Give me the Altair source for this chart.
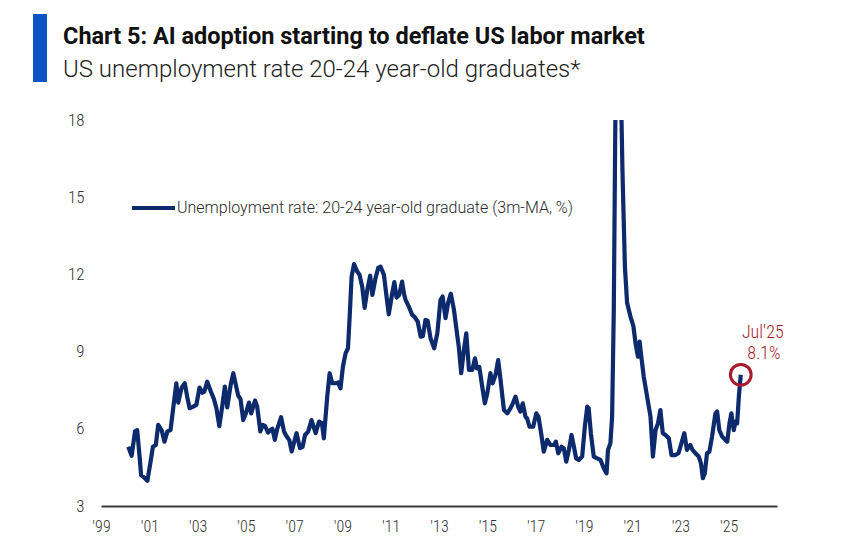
import altair as alt
import pandas as pd

# ---- data (decimal year, 3m-MA unemployment rate %) ----
years = [
    2000.13, 2000.27, 2000.41, 2000.50, 2000.60, 2000.66, 2000.80, 2000.92,
    2001.05, 2001.15, 2001.27, 2001.37, 2001.51, 2001.63, 2001.75, 2001.88, 2001.99,
    2002.12, 2002.20, 2002.34, 2002.47, 2002.57, 2002.67, 2002.80, 2002.95,
    2003.08, 2003.20, 2003.28, 2003.40, 2003.55, 2003.68, 2003.78, 2003.90,
    2004.02, 2004.13, 2004.23, 2004.37, 2004.48, 2004.57, 2004.68, 2004.78, 2004.89,
    2005.00, 2005.13, 2005.22, 2005.38, 2005.47, 2005.60, 2005.70, 2005.80, 2005.92,
    2006.02, 2006.10, 2006.20, 2006.30, 2006.46, 2006.58, 2006.66, 2006.80, 2006.90,
    2007.06, 2007.10, 2007.24, 2007.35, 2007.45, 2007.58, 2007.72, 2007.89,
    2008.03, 2008.15, 2008.23, 2008.37, 2008.47, 2008.58, 2008.72, 2008.82, 2008.92,
    2009.02, 2009.13, 2009.23, 2009.30, 2009.38, 2009.48, 2009.62, 2009.71, 2009.82, 2009.92,
    2010.03, 2010.15, 2010.24, 2010.37, 2010.48, 2010.58, 2010.72, 2010.81, 2010.92,
    2011.05, 2011.15, 2011.24, 2011.35, 2011.47, 2011.56, 2011.62, 2011.75, 2011.89, 2011.98,
    2012.12, 2012.24, 2012.33, 2012.44, 2012.53, 2012.65, 2012.80, 2012.93,
    2013.06, 2013.15, 2013.27, 2013.38, 2013.49, 2013.62, 2013.76, 2013.82, 2013.92,
    2014.03, 2014.13, 2014.24, 2014.38, 2014.49, 2014.57, 2014.67, 2014.79, 2014.90,
    2015.00, 2015.13, 2015.22, 2015.34, 2015.45, 2015.55, 2015.69, 2015.83, 2015.96,
    2016.06, 2016.17, 2016.28, 2016.37, 2016.47, 2016.58, 2016.65, 2016.75, 2016.90,
    2017.03, 2017.12, 2017.23, 2017.34, 2017.48, 2017.62, 2017.76, 2017.84, 2017.94,
    2018.07, 2018.17, 2018.27, 2018.38, 2018.49, 2018.59, 2018.68, 2018.79, 2018.93,
    2019.04, 2019.14, 2019.20, 2019.29, 2019.41, 2019.55, 2019.69, 2019.83, 2019.94,
    2020.00, 2020.10, 2020.17, 2020.24, 2020.33, 2020.42, 2020.50, 2020.60, 2020.70, 2020.79, 2020.93,
    2021.05, 2021.14, 2021.24, 2021.31, 2021.38, 2021.48, 2021.62, 2021.76, 2021.86, 2021.97,
    2022.07, 2022.17, 2022.27, 2022.38, 2022.52, 2022.63, 2022.79, 2022.92,
    2023.04, 2023.16, 2023.27, 2023.41, 2023.50, 2023.62, 2023.76, 2023.85, 2023.93,
    2024.01, 2024.10, 2024.20, 2024.31, 2024.45, 2024.52, 2024.61, 2024.73, 2024.86, 2024.94,
    2025.03, 2025.11, 2025.21, 2025.28, 2025.35, 2025.42, 2025.50,
]
rates = [
    5.30, 4.95, 5.90, 5.95, 4.90, 4.20, 4.10, 3.98,
    4.70, 5.30, 5.37, 6.15, 5.95, 5.50, 5.90, 5.95, 6.80,
    7.77, 7.02, 7.60, 7.77, 7.25, 6.80, 6.85, 6.93,
    7.60, 7.40, 7.45, 7.83, 7.45, 7.15, 6.80, 6.10,
    6.86, 7.64, 6.83, 7.70, 8.16, 7.77, 7.30, 7.15, 6.34,
    6.60, 7.02, 6.60, 7.10, 6.86, 5.90, 6.15, 6.10, 5.85,
    5.95, 6.00, 5.57, 6.00, 6.45, 5.90, 5.75, 5.56, 5.12,
    5.70, 5.83, 5.25, 5.30, 5.76, 5.89, 6.34, 5.83,
    6.28, 6.22, 5.63, 7.25, 8.16, 7.77, 7.77, 7.80, 7.57,
    8.41, 8.93, 9.13, 10.36, 11.91, 12.40, 12.10, 11.98, 11.52, 10.70,
    11.40, 11.95, 11.20, 11.85, 12.25, 12.30, 11.98, 11.27, 10.45,
    11.20, 11.70, 11.10, 11.20, 11.72, 11.20, 11.00, 10.75, 10.42, 10.36,
    10.16, 9.58, 9.60, 10.23, 10.20, 9.52, 9.13, 9.71,
    11.00, 11.14, 10.30, 10.90, 11.25, 10.62, 9.60, 9.19, 8.16,
    9.06, 9.71, 8.29, 8.29, 8.74, 8.35, 8.40, 7.64, 6.99,
    7.38, 8.16, 7.77, 8.09, 8.67, 7.90, 6.73, 6.60, 6.80,
    6.99, 7.25, 6.86, 6.67, 6.99, 6.47, 6.40, 6.08, 6.08,
    6.60, 6.47, 5.83, 5.11, 5.57, 5.37, 5.37, 5.50, 5.05,
    5.30, 5.24, 4.72, 5.18, 5.76, 5.30, 4.85, 4.79, 4.92,
    6.08, 6.86, 6.80, 5.83, 4.92, 4.85, 4.79, 4.46, 4.27,
    5.18, 5.44, 6.47, 10.62, 21.0, 23.5, 21.0, 16.0, 12.3, 10.9, 10.36,
    10.00, 9.32, 8.80, 9.39, 8.80, 8.03, 7.25, 6.47, 4.92, 5.95,
    6.21, 6.73, 5.83, 5.76, 5.63, 4.98, 4.98, 5.05,
    5.44, 5.83, 5.18, 5.37, 5.18, 5.05, 4.92, 4.66, 4.08,
    4.27, 5.05, 5.11, 5.70, 6.60, 6.67, 5.95, 5.70, 5.57, 5.50,
    6.21, 6.60, 5.95, 6.28, 6.21, 7.25, 8.10,
]

x_ticks = [1999, 2001, 2003, 2005, 2007, 2009, 2011, 2013, 2015, 2017, 2019, 2021, 2023, 2025]
y_ticks = [3, 6, 9, 12, 15, 18]

title_text = "Chart 5: AI adoption starting to deflate US labor market"
subtitle_text = "US unemployment rate 20-24 year-old graduates*"
legend_text = "Unemployment rate: 20-24 year-old graduate (3m-MA, %)"
last_label = ["Jul'25"]
last_value_label = ["8.1%"]

NAVY = "#0c2a6c"
RED = "#a8192e"
BLUE_BAR = "#0b52c4"
FONT_N = "Roboto Condensed, Roboto, sans-serif"
FONT = "Roboto, sans-serif"

df = pd.DataFrame({"year": years, "rate": rates})
last = pd.DataFrame({"year": [years[-1]], "rate": [rates[-1]],
                     "l1": last_label, "l2": last_value_label})

xscale = alt.Scale(domain=[1999, 2027], nice=False, zero=False)
yscale = alt.Scale(domain=[3, 18], nice=False, zero=False)

xaxis = alt.Axis(values=x_ticks, labelExpr="\"'\" + substring(toString(datum.value), 2)",
                 title=None, grid=False, ticks=False, domain=True,
                 domainColor="#3a3a3a", domainWidth=2, labelFont=FONT_N,
                 labelFontSize=16, labelFontWeight=300, labelColor="#333333",
                 labelPadding=12, labelFlush=False)
yaxis = alt.Axis(values=y_ticks, title=None, grid=False, ticks=False, domain=False,
                 labelFont=FONT_N, labelFontSize=17, labelFontWeight=300,
                 labelColor="#333333", labelPadding=17)

line = alt.Chart(df).mark_line(clip=True, color=NAVY, strokeWidth=4.2,
                               strokeJoin="round").encode(
    x=alt.X("year:Q", scale=xscale, axis=xaxis),
    y=alt.Y("rate:Q", scale=yscale, axis=yaxis),
)

circle = alt.Chart(last).mark_point(shape="circle", size=430, filled=False,
                                    stroke=RED, strokeWidth=3, opacity=1).encode(
    x=alt.X("year:Q", scale=xscale), y=alt.Y("rate:Q", scale=yscale))

lab1 = alt.Chart(last).mark_text(font=FONT_N, fontSize=18, fontWeight=300, color=RED,
                                 align="center", baseline="alphabetic", dx=22, dy=-37).encode(
    x=alt.X("year:Q", scale=xscale), y=alt.Y("rate:Q", scale=yscale), text="l1:N")
lab2 = alt.Chart(last).mark_text(font=FONT_N, fontSize=18, fontWeight=300, color=RED,
                                 align="center", baseline="alphabetic", dx=23, dy=-16).encode(
    x=alt.X("year:Q", scale=xscale), y=alt.Y("rate:Q", scale=yscale), text="l2:N")

one = pd.DataFrame({"title": [title_text], "subtitle": [subtitle_text],
                    "legend": [legend_text]})

bar = alt.Chart(one).mark_rect(color=BLUE_BAR).encode(
    x=alt.value(-68), x2=alt.value(-54), y=alt.value(-106), y2=alt.value(-38))
title = alt.Chart(one).mark_text(font=FONT, fontSize=23.5, fontWeight="bold", color="#111111",
                                 align="left", baseline="alphabetic").encode(
    x=alt.value(-38), y=alt.value(-76), text="title:N")
subtitle = alt.Chart(one).mark_text(font=FONT, fontSize=24, fontWeight=300, color="#222222",
                                    align="left", baseline="alphabetic").encode(
    x=alt.value(-38), y=alt.value(-43), text="subtitle:N")
leg_line = alt.Chart(one).mark_rule(color=NAVY, strokeWidth=4.2).encode(
    x=alt.value(31), x2=alt.value(74), y=alt.value(88))
leg_text = alt.Chart(one).mark_text(font=FONT, fontSize=16, fontWeight=300, color="#2a2a2a",
                                    align="left", baseline="middle").encode(
    x=alt.value(76), y=alt.value(88), text="legend:N")

chart = alt.layer(line, circle, lab1, lab2, bar, title, subtitle, leg_line, leg_text).properties(
    width=676, height=386,
    autosize=alt.AutoSizeParams(type="none"),
    padding={"left": 101, "top": 120, "right": 83, "bottom": 36},
    background="white",
).configure_view(stroke=None)

chart.save("out.html", embed_options={"renderer": "svg", "actions": False})
